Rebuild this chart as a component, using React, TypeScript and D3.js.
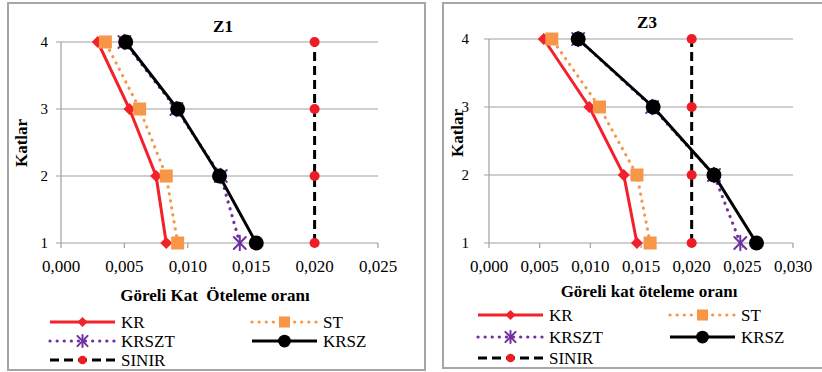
import * as d3 from 'd3';

const levels = [1, 2, 3, 4];
const seriesNames = ['KR', 'ST', 'KRSZT', 'KRSZ', 'SINIR'];

// Z1 values per level (1..4)
const z1KR = [0.0083, 0.0075, 0.0054, 0.0029];
const z1ST = [0.0092, 0.0083, 0.0062, 0.0035];
const z1KRSZT = [0.0141, 0.0126, 0.0091, 0.005];
const z1KRSZ = [0.0154, 0.0125, 0.0092, 0.0051];
const z1SINIR = [0.02, 0.02, 0.02, 0.02];
const z1Ticks = [0, 0.005, 0.01, 0.015, 0.02, 0.025];

// Z3 values per level (1..4)
const z3KR = [0.0146, 0.0133, 0.0099, 0.0054];
const z3ST = [0.0159, 0.0146, 0.0109, 0.0062];
const z3KRSZT = [0.0248, 0.0222, 0.0161, 0.0088];
const z3KRSZ = [0.0264, 0.0222, 0.0162, 0.0088];
const z3SINIR = [0.02, 0.02, 0.02, 0.02];
const z3Ticks = [0, 0.005, 0.01, 0.015, 0.02, 0.025, 0.03];

const styles: Record<string, any> = {
  KR: { color: '#f2212a', width: 3, dash: null, marker: 'diamond', mcolor: '#f2212a' },
  ST: { color: '#f79646', width: 3.2, dash: '0.1 7', marker: 'square', mcolor: '#f79646' },
  KRSZT: { color: '#7030a0', width: 3.2, dash: '0.1 7', marker: 'star', mcolor: '#7030a0' },
  KRSZ: { color: '#000', width: 3, dash: null, marker: 'circle', mcolor: '#000' },
  SINIR: { color: '#000', width: 3, dash: '9 5', marker: 'dot', mcolor: '#ee1c25' },
};

const font = "Times New Roman, Times, Liberation Serif, serif";
const fmt = (v: number) => v.toFixed(3).replace('.', ',');

function Marker({ type, x, y, color, small }: any) {
  const k = small ? 0.85 : 1;
  if (type === 'diamond') {
    const s = 6 * k;
    return <path d={`M${x - s},${y}L${x},${y - s}L${x + s},${y}L${x},${y + s}Z`} fill={color} />;
  }
  if (type === 'square') {
    const s = 6.5 * k;
    return <rect x={x - s} y={y - s} width={2 * s} height={2 * s} fill={color} />;
  }
  if (type === 'circle') {
    return <circle cx={x} cy={y} r={7.5 * k} fill={color} />;
  }
  if (type === 'dot') {
    return <circle cx={x} cy={y} r={5 * k} fill={color} />;
  }
  // asterisk-like star
  const s = 6 * k;
  return (
    <g stroke={color} strokeWidth={2} strokeLinecap="round">
      <line x1={x - s} y1={y - s} x2={x + s} y2={y + s} />
      <line x1={x - s} y1={y + s} x2={x + s} y2={y - s} />
      <line x1={x} y1={y - s * 1.2} x2={x} y2={y + s * 1.2} />
    </g>
  );
}

function Panel({ cfg }: any) {
  const x = d3.scaleLinear().domain([0, cfg.ticks[cfg.ticks.length - 1]]).range([cfg.x0, cfg.x1]);
  const y = d3.scaleLinear().domain([1, 4]).range([cfg.y1, cfg.y0]);
  const line = d3.line<[number, number]>().x(d => x(d[0])).y(d => y(d[1]));
  const order = ['SINIR', 'KR', 'ST', 'KRSZT', 'KRSZ'];
  return (
    <g style={{ fontFamily: font }}>
      <rect x={cfg.bx} y={cfg.by} width={cfg.bw} height={cfg.bh} fill="#fff" stroke="#a6a6a6" strokeWidth={2} />
      <text x={cfg.titleX} y={cfg.titleY} textAnchor="middle" fontWeight="bold" fontSize={17}>{cfg.title}</text>
      {levels.map(l => (
        <g key={l}>
          <line x1={cfg.x0 - 5} x2={cfg.x1} y1={y(l)} y2={y(l)} stroke="#a0a0a0" strokeWidth={1.2} />
          <text x={cfg.ytickX} y={y(l) + 5} textAnchor="end" fontSize={15}>{l}</text>
        </g>
      ))}
      <line x1={cfg.x0} x2={cfg.x0} y1={cfg.y0} y2={cfg.y1} stroke="#a0a0a0" strokeWidth={1.2} />
      {cfg.ticks.map((t: number) => (
        <g key={t}>
          <line x1={x(t)} x2={x(t)} y1={cfg.y1} y2={cfg.y1 + 5} stroke="#a0a0a0" strokeWidth={1.2} />
          <text x={x(t)} y={cfg.y1 + 29} textAnchor="middle" fontSize={17}>{fmt(t)}</text>
        </g>
      ))}
      <text transform={`translate(${cfg.ylabX},${cfg.ylabY}) rotate(-90)`} textAnchor="middle" fontWeight="bold" fontSize={17}>Katlar</text>
      <text x={cfg.xlabX} y={cfg.xlabY} textAnchor="middle" fontWeight="bold" fontSize={17} style={{ whiteSpace: 'pre' }}>{cfg.xlabel}</text>
      {order.map(name => {
        const st = styles[name];
        const pts: [number, number][] = cfg.data[name].map((v: number, i: number) => [v, levels[i]]);
        return (
          <g key={name}>
            <path d={line(pts) || ''} fill="none" stroke={st.color} strokeWidth={st.width}
              strokeDasharray={st.dash || undefined} strokeLinecap={st.dash && st.dash.startsWith('0.1') ? 'round' : 'butt'} />
            {pts.map((p, i) => <Marker key={i} type={st.marker} x={x(p[0])} y={y(p[1])} color={st.mcolor} />)}
          </g>
        );
      })}
      {seriesNames.map((name, i) => {
        const st = styles[name];
        const col = i % 2;
        const row = Math.floor(i / 2);
        const lx0 = cfg.legX[col];
        const lx1 = lx0 + 65;
        const ly = cfg.legY[row];
        return (
          <g key={name}>
            <line x1={lx0} x2={lx1} y1={ly} y2={ly} stroke={st.color} strokeWidth={st.width}
              strokeDasharray={st.dash || undefined} strokeLinecap={st.dash && st.dash.startsWith('0.1') ? 'round' : 'butt'} />
            <Marker type={st.marker} x={(lx0 + lx1) / 2} y={ly} color={st.mcolor} small />
            <text x={lx1 + 6} y={ly + 6} fontSize={17}>{name}</text>
          </g>
        );
      })}
    </g>
  );
}

const panels = [
  {
    title: 'Z1', bx: 8, by: 3, bw: 417, bh: 367,
    x0: 61, x1: 378, y0: 42, y1: 243, ticks: z1Ticks,
    titleX: 223, titleY: 32, ytickX: 48, ylabX: 27, ylabY: 143,
    xlabX: 215, xlabY: 301, xlabel: 'Göreli Kat  Öteleme oranı',
    legX: [50, 252], legY: [322, 341, 360],
    data: { KR: z1KR, ST: z1ST, KRSZT: z1KRSZT, KRSZ: z1KRSZ, SINIR: z1SINIR },
  },
  {
    title: 'Z3', bx: 443, by: 3, bw: 385, bh: 365,
    x0: 489, x1: 793, y0: 39, y1: 243, ticks: z3Ticks,
    titleX: 647, titleY: 28, ytickX: 469, ylabX: 463, ylabY: 133,
    xlabX: 649, xlabY: 297, xlabel: 'Göreli kat öteleme oranı',
    legX: [478, 670], legY: [315, 337, 358],
    data: { KR: z3KR, ST: z3ST, KRSZT: z3KRSZT, KRSZ: z3KRSZ, SINIR: z3SINIR },
  },
];

export default function App() {
  return (
    <svg width={822} height={372} style={{ position: 'absolute', left: 0, top: 0, background: '#fff' }}>
      {panels.map(p => <Panel key={p.title} cfg={p} />)}
    </svg>
  );
}
